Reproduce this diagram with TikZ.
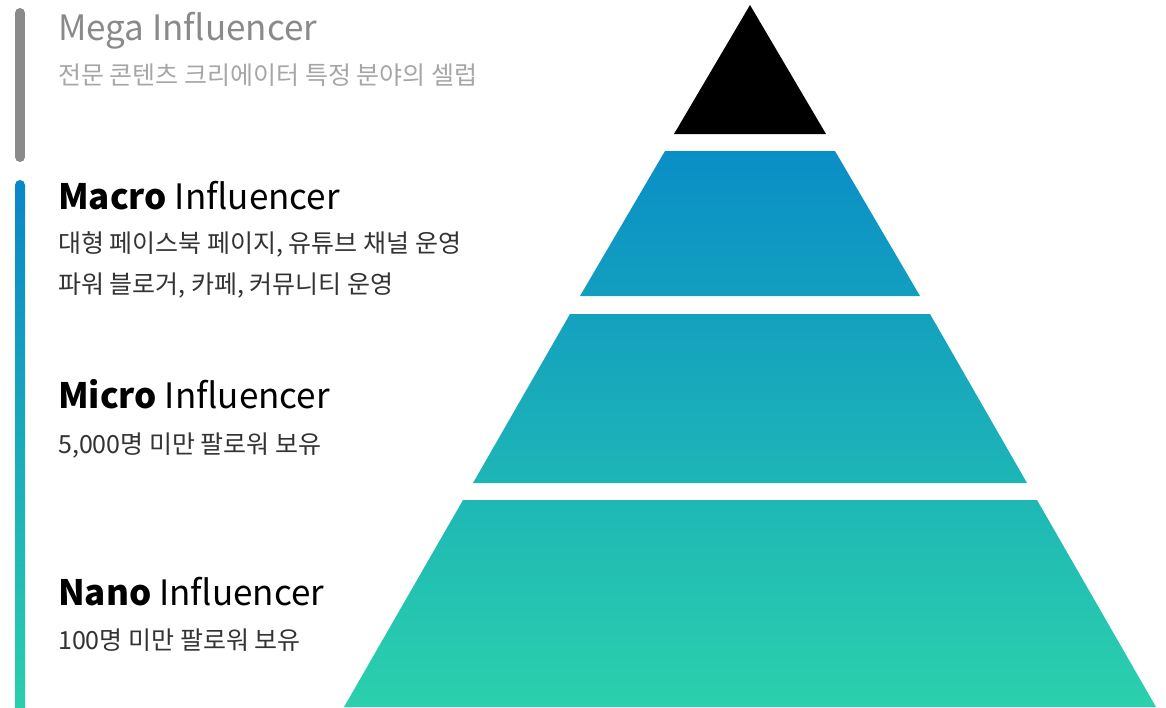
\documentclass[tikz,border=0pt]{standalone}
\usepackage{xcolor}
\usepackage{fontspec}
\setmainfont{Noto Sans CJK KR}
\usepackage{tikz}
\usetikzlibrary{positioning}
\definecolor{tiertop}{HTML}{0A8EC6}
\definecolor{tierbot}{HTML}{2BD0AC}
\definecolor{bartop}{HTML}{0A86CA}
\definecolor{megagray}{HTML}{8A8A8A}
\definecolor{megasub}{HTML}{A6A6A6}
\definecolor{subtext}{HTML}{333333}
\tikzset{heading/.style={anchor=base west, inner sep=0pt, font=\fontsize{35}{35}\selectfont}}
\tikzset{subline/.style={anchor=base west, inner sep=0pt, text=subtext, font=\fontsize{25}{25}\selectfont}}

\begin{document}
\begin{tikzpicture}[x=1pt,y=-1pt]
\useasboundingbox (0,0) rectangle (1166,707);
%\draw[help lines] (0,0) grid[step=50] (1166,707);
% pyramid, apex at (750,3)
\fill[black] (750,5) -- (826,134) -- (674,134) -- cycle;
\shade[top color=tiertop, bottom color=tierbot!26!tiertop] (665,151) -- (835,151) -- (920,296) -- (580,296) -- cycle;
\shade[top color=tierbot!29!tiertop, bottom color=tierbot!60!tiertop] (570,314) -- (930,314) -- (1027,483) -- (473,483) -- cycle;
\shade[top color=tierbot!63!tiertop, bottom color=tierbot] (463,500) -- (1037,500) -- (1156,707) -- (344,707) -- cycle;
% side bars
\draw[line width=10pt, line cap=round, megagray] (20,13) -- (20,157);
\shade[top color=bartop, bottom color=tierbot, rounded corners=5pt] (15,180) rectangle (25,715);
% labels
\node[heading, text=megagray] (mega) at (58,40) {Mega Influencer};
\node[subline, text=megasub] (megasub) at (58,84) {전문 콘텐츠 크리에이터 특정 분야의 셀럽};
\node[heading] (macro) at (58,209) {\textbf{Macro} Influencer};
\node[subline] (macroa) at (58,252) {대형 페이스북 페이지, 유튜브 채널 운영};
\node[subline] (macrob) at (58,293) {파워 블로거, 카페, 커뮤니티 운영};
\node[heading] (micro) at (58,408) {\textbf{Micro} Influencer};
\node[subline] (microa) at (58,453) {5,000명 미만 팔로워 보유};
\node[heading] (nano) at (58,605) {\textbf{Nano} Influencer};
\node[subline] (nanoa) at (58,649) {100명 미만 팔로워 보유};
\end{tikzpicture}
\end{document}
